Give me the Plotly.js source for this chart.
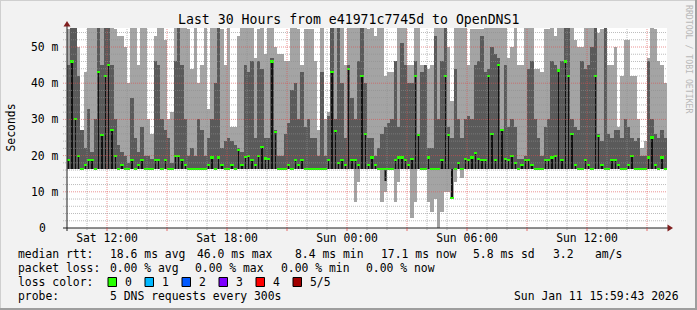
<!DOCTYPE html>
<html><head><meta charset="utf-8">
<script src="https://cdn.plot.ly/plotly-3.0.1.min.js"></script>
<style>html,body{margin:0;padding:0;background:#f2f2f2}</style>
</head><body><div id="chart" style="width:697px;height:310px"></div>
<script>
// ---- data (milliseconds), 10-minute bins from Sat 2026-01-10 10:00 ----
const startTime = Date.UTC(2026, 0, 10, 10, 0, 0);
const endTime = Date.UTC(2026, 0, 11, 16, 0, 0);
const binMinutes = 10;

const pingHigh = [
 55,58,58,50,27,43,58,58,58,58,58,58,58,58,55, 53,53,50,40,58,58,45,58,56,30,26,53,56,58,52, 30,32,58,58,58,58,55,44,58,40,45,58,33,58,58,
 58,55,45,56,28,28,53,58,56,56,58,47,55,56,48, 58,58,50,48,48,46,46,58,58,55,45,55,55,55,46, 27,58,30,32,58,58,58,58,45,58,56,58,56,58,58,
 55,58,53,58,58,42,43,43,46,58,58,58,45,45,58, 56,45,45,44,45,58,56,58,58,50,35,58,58,58,58, 45,55,55,55,55,58,58,58,58,58,58,58,47,50,58,
 45,45,58,58,58,44,44,43,55,55,58,53,58,58,58, 58,58,52,50,50,58,58,58,58,54,55,58,45,45,50, 28,42,52,52,42,42,30,22,24,47,56,55,46,45,40
];
const pingQ4 = [
 45,58,58,42,27,22,33,21,30,56,45,58,58,45,30, 23,21,20,18,36,25,21,28,20,20,19,46,45,30,27, 25,18,46,58,45,30,20,22,20,30,27,20,25,30,40,
 58,22,24,25,24,23,22,21,45,43,46,25,46,44,25, 25,47,27,20,20,26,29,38,40,30,43,28,30,25,25, 20,43,20,31,58,30,58,40,25,45,36,30,46,58,40,
 25,25,20,22,26,28,29,30,46,28,51,45,40,40,46, 26,43,45,22,22,53,30,46,56,28,25,44,30,25,30, 31,30,45,46,53,43,44,50,48,47,27,45,28,30,28,
 19,19,20,44,46,30,25,20,28,30,46,45,44,46,58, 58,30,28,27,46,44,45,50,56,26,24,56,26,25,27, 27,25,30,28,25,24,25,20,20,46,30,26,25,27,25
];
const medianRtt = [
 18.8,46,30,20,16.3,17.5,18.8,18.8,16.3,43,25.7,42,45,27,20, 16.3,17.5,16.3,16.3,18.8,16.3,17.5,18.8,16.3,16.3,16.3,18.8,18.8,16.3,18.8, 16.3,16.3,20,20,18.8,17.5,16.3,16.3,16.3,16.3,16.3,16.3,17.5,19.5,16.3,
 19.5,17.5,16.3,16.3,17.5,16.3,21.5,17.5,19.7,19.9,18.8,17.5,20,22.3,19.2, 19,46,26.6,16.3,16.3,16.3,17.5,16.3,18.8,17.5,18.8,16.3,16.3,16.3,16.3, 16.3,16.3,16.3,18.8,43,26.7,18,18.8,17.5,44,18.8,18.8,17.5,42,26,
 17.5,19.5,17.5,16.3,16.3,16.3,16.3,16.3,18.8,19.5,19.5,18.8,17.5,19,42, 25.8,16.3,16.3,19.5,16.3,16.3,16.3,18.8,42,25.8,8.4,16.3,18,16.3,19, 18.8,19.5,20.8,19,18.8,18.8,42,26,18.8,45,27,19,18.8,20,18,
 16.3,17.5,18.8,18.8,17.5,16.3,16.3,16.3,18.8,18.8,19.5,20,43.5,18.8,46, 42,26,17.5,16.3,16.3,18.8,17.5,16.3,42,25.5,17.5,16.3,16.3,18.8,18.8, 17.5,16.3,16.3,17.5,19.8,16.3,16.3,16.3,16.3,19.5,25,17.5,16.3,19.5,16.3
];
const pingQ2 = [
 16.3,16.3,16.3,16.3,16.3,16.3,16.3,16.3,16.3,16.3,16.3,16.3,16.3,16.3,16.3, 16.3,16.3,16.3,16.3,16.3,16.3,16.3,16.3,16.3,16.3,16.3,16.3,16.3,16.3,16.3, 16.3,16.3,16.3,16.3,16.3,16.3,16.3,16.3,16.3,16.3,16.3,16.3,16.3,16.3,16.3,
 16.3,16.3,16.3,16.3,16.3,16.3,16.3,16.3,16.3,16.3,16.3,16.3,16.3,16.3,16.3, 16.3,16.3,16.3,16.3,16.3,16.3,16.3,16.3,16.3,16.3,16.3,16.3,16.3,16.3,16.3, 16.3,16.3,16.3,16.3,16.3,16.3,16.3,16.3,16.3,16.3,16.3,16.3,16.3,16.3,16.3,
 16.3,16.3,16.3,16.3,16.3,13,16.3,16.3,16.3,16.3,16.3,16.3,16.3,16.3,16.3, 16.3,16.3,16.3,16.3,16.3,16.3,16.3,16.3,16.3,16.3,16.3,16.3,16.3,16.3,16.3, 16.3,16.3,16.3,16.3,16.3,16.3,16.3,16.3,16.3,16.3,16.3,16.3,16.3,16.3,16.3,
 16.3,16.3,16.3,16.3,16.3,16.3,16.3,16.3,16.3,16.3,16.3,16.3,16.3,16.3,16.3, 16.3,16.3,16.3,16.3,16.3,16.3,16.3,16.3,16.3,16.3,16.3,16.3,16.3,16.3,16.3, 16.3,16.3,16.3,16.3,16.3,16.3,16.3,16.3,16.3,16.3,16.3,16.3,16.3,16.3,16.3
];
const pingLow = [
 16.3,16.3,16.3,16.3,16.3,16.3,16.3,16.3,16.3,16.3,16.3,16.3,16.3,16.3,16.3, 16.3,16.3,16.3,16.3,16.3,16.3,16.3,16.3,16.3,16.3,16.3,16.3,16.3,16.3,16.3, 16.3,16.3,16.3,16.3,16.3,16.3,16.3,16.3,16.3,16.3,16.3,16.3,16.3,16.3,16.3,
 16.3,16.3,16.3,16.3,16.3,16.3,16.3,16.3,16.3,16.3,16.3,16.3,16.3,16.3,16.3, 16.3,16.3,16.3,16.3,16.3,16.3,16.3,16.3,16.3,16.3,16.3,16.3,16.3,16.3,16.3, 16.3,16.3,16.3,16.3,16.3,16.3,16.3,16.3,16.3,16.3,16.3,7.3,12.8,16.3,16.3,
 16.3,16.3,16.3,16.3,7.3,10,16.3,16.3,7.3,12.8,16.3,16.3,16.3,2.7,7.3, 16.3,16.3,16.3,7.3,4.5,8,0,4.5,10,10,8,12.8,16.3,13.7,16.3, 16.3,16.3,16.3,16.3,16.3,16.3,16.3,16.3,16.3,16.3,16.3,16.3,16.3,16.3,16.3,
 16.3,16.3,16.3,16.3,16.3,16.3,16.3,16.3,16.3,16.3,16.3,16.3,16.3,16.3,16.3, 16.3,16.3,16.3,16.3,16.3,16.3,16.3,16.3,16.3,16.3,16.3,16.3,16.3,16.3,16.3, 16.3,16.3,16.3,16.3,16.3,16.3,16.3,16.3,16.3,16.3,16.3,16.3,16.3,16.3,16.3
];

const xTickTimes = ['2026-01-10 12:00','2026-01-10 15:00','2026-01-10 18:00','2026-01-10 21:00','2026-01-11 00:00','2026-01-11 03:00','2026-01-11 06:00','2026-01-11 09:00','2026-01-11 12:00','2026-01-11 15:00'];
const xTickText = ['Sat 12:00','','Sat 18:00','','Sun 00:00','','Sun 06:00','','Sun 12:00',''];
const yTickVals = [0, 10, 20, 30, 40, 50];
const yTickText = ['0', '10 m', '20 m', '30 m', '40 m', '50 m'];

const titleText = 'Last 30 Hours from e41971c7745d to OpenDNS1';
const statsRtt = [['median rtt:',16.4],['18.6 ms avg',107.6],['46.0 ms max',194.7],['8.4 ms min',293],['17.1 ms now',379],['5.8 ms sd',471],['3.2',551],['am/s',593]];
const statsLoss = [['packet loss:',16.4],['0.00 % avg',107.6],['0.00 % max',193],['0.00 % min',279],['0.00 % now',364]];
const lossLabels = ['0','1','2','3','4','5/5'];
const lossColors = ['#26ff00','#00b8ff','#0059ff','#7e00ff','#ff0000','#a10000'];
const probeText = '5 DNS requests every 300s';
const dateStamp = 'Sun Jan 11 15:59:43 2026';

// ---- drawing ----
const FONT = 'DejaVu Sans Mono';
const FS = 11.4;
const binMs = binMinutes * 60000;
const fmt = ms => new Date(ms).toISOString().replace('T', ' ').slice(0, 19);
const times = pingHigh.map((_, i) => fmt(startTime + (i + 0.5) * binMs));

// pixel helpers for layout decoration (plot area 67..667 x 28..228)
const L = 67, T = 28, W = 600, H = 200;
const px = x => (x - L) / W;
const py = y => (T + H - y) / H;

const common = {type: 'bar', x: times, hoverinfo: 'skip', showlegend: false};
const traces = [
  Object.assign({}, common, {base: pingLow, y: pingHigh.map((v, i) => v - pingLow[i]), width: binMs,
    marker: {color: '#a4a4a4', line: {width: 0}}}),
  Object.assign({}, common, {base: pingQ2, y: pingQ4.map((v, i) => v - pingQ2[i]), width: binMs,
    marker: {color: '#5a5a5a', line: {width: 0}}}),
  Object.assign({}, common, {base: medianRtt.map((m, i) => Math.min(m, pingQ2[i])),
    y: medianRtt.map((m, i) => Math.abs(m - pingQ2[i])), width: binMs * 0.32,
    marker: {color: '#111111', line: {width: 0}}}),
  Object.assign({}, common, {base: medianRtt.map(m => m - 0.3), y: medianRtt.map(() => 0.6), width: binMs,
    marker: {color: lossColors[0], line: {width: 0}}})
];

const shapes = [];
// grid on top of smoke (rrdtool style)
for (let t = startTime + 3600000; t < endTime; t += 3600000) {
  const h = new Date(t).getUTCHours();
  const major = h % 3 === 0;
  shapes.push({type: 'line', xref: 'x', yref: 'paper', x0: fmt(t), x1: fmt(t), y0: 0, y1: 1, layer: 'above',
    line: {color: major ? 'rgba(222,79,79,0.6)' : 'rgba(143,143,143,0.6)', width: 1, dash: '1px,1px'}});
}
for (let v = 2; v < 55.25; v += 2) {
  const major = v % 10 === 0;
  shapes.push({type: 'line', xref: 'paper', yref: 'y', x0: px(63), x1: 1, y0: v, y1: v, layer: 'above',
    line: {color: major ? 'rgba(222,79,79,0.6)' : 'rgba(143,143,143,0.6)', width: 1, dash: '1px,1px'}});
}
// axis lines + arrows
shapes.push({type: 'line', xref: 'paper', yref: 'paper', x0: px(63), x1: px(668), y0: 0, y1: 0, layer: 'above', line: {color: '#1f1f1f', width: 1}});
shapes.push({type: 'line', xref: 'paper', yref: 'paper', x0: 0, x1: 0, y0: py(231), y1: py(25), layer: 'above', line: {color: '#1f1f1f', width: 1}});
shapes.push({type: 'path', xref: 'paper', yref: 'paper', layer: 'above',
  path: `M ${px(667.5)} ${py(224.5)} L ${px(673)} ${py(228)} L ${px(667.5)} ${py(231.5)} Z`, fillcolor: '#801f1f', line: {width: 0}});
shapes.push({type: 'path', xref: 'paper', yref: 'paper', layer: 'above',
  path: `M ${px(63.5)} ${py(26.5)} L ${px(67)} ${py(21)} L ${px(70.5)} ${py(26.5)} Z`, fillcolor: '#801f1f', line: {width: 0}});
// x ticks
for (let t = startTime + 3600000; t < endTime; t += 3600000) {
  const h = new Date(t).getUTCHours();
  shapes.push({type: 'line', xref: 'x', yref: 'paper', x0: fmt(t), x1: fmt(t), y0: py(228), y1: py(h % 3 === 0 ? 231 : 230),
    line: {color: h % 3 === 0 ? 'rgba(222,79,79,0.8)' : 'rgba(143,143,143,0.8)', width: 1}});
}
// frame
shapes.push({type: 'line', xref: 'paper', yref: 'paper', x0: px(0), x1: px(697), y0: py(0.5), y1: py(0.5), line: {color: '#cfcfcf', width: 1}});
shapes.push({type: 'line', xref: 'paper', yref: 'paper', x0: px(0.5), x1: px(0.5), y0: py(0), y1: py(310), line: {color: '#cfcfcf', width: 1}});
shapes.push({type: 'line', xref: 'paper', yref: 'paper', x0: px(0), x1: px(697), y0: py(309), y1: py(309), line: {color: '#9e9e9e', width: 2}});
shapes.push({type: 'line', xref: 'paper', yref: 'paper', x0: px(696), x1: px(696), y0: py(0), y1: py(310), line: {color: '#9e9e9e', width: 2}});
// loss colour swatches
lossColors.forEach((c, i) => {
  const x0 = 108 + i * 37;
  shapes.push({type: 'rect', xref: 'paper', yref: 'paper', x0: px(x0), x1: px(x0 + 8.5), y0: py(286.5), y1: py(277.5),
    fillcolor: c, line: {color: '#000', width: 1}});
});

const f = {family: FONT, size: FS, color: '#000'};
const ann = (text, x, y, xanchor) => ({text, xref: 'paper', yref: 'paper', x: px(x), y: py(y), xanchor: xanchor || 'left', yanchor: 'middle', showarrow: false, font: f});
const annotations = [];
// y tick labels (rrdtool places "0" with its unit gap kept)
yTickVals.forEach((v, i) => annotations.push({text: yTickText[i], xref: 'paper', yref: 'y', x: px(v === 0 ? 47.5 : 61), y: v,
  xanchor: 'right', yanchor: 'middle', showarrow: false, font: f}));
statsRtt.forEach(([t, x]) => annotations.push(ann(t, x, 254)));
statsLoss.forEach(([t, x]) => annotations.push(ann(t, x, 268)));
annotations.push(ann('loss color:', 16.4, 282));
lossLabels.forEach((t, i) => annotations.push(ann(t, 123 + i * 37, 282)));
annotations.push(ann('probe:', 16.4, 296));
annotations.push(ann(probeText, 107.6, 296));
annotations.push(ann(dateStamp, 681, 296, 'right'));
annotations.push({text: 'Seconds', xref: 'paper', yref: 'paper', x: px(10.5), y: py(128), xanchor: 'center', yanchor: 'middle',
  textangle: -90, showarrow: false, font: f});
annotations.push({text: 'RRDTOOL / TOBI OETIKER', xref: 'paper', yref: 'paper', x: px(689), y: py(59), xanchor: 'center', yanchor: 'middle',
  textangle: 90, showarrow: false, font: {family: FONT, size: 8.2, color: '#b8b8b8'}});
annotations.push({text: titleText, xref: 'paper', yref: 'paper', x: px(348), y: py(19.5), xanchor: 'center', yanchor: 'middle',
  showarrow: false, font: {family: FONT, size: 13.2, color: '#000'}});

const layout = {
  width: 697, height: 310,
  margin: {l: L, r: 697 - L - W, t: T, b: 310 - T - H, pad: 0},
  paper_bgcolor: '#f2f2f2', plot_bgcolor: '#ffffff',
  barmode: 'overlay', bargap: 0, showlegend: false,
  xaxis: {type: 'date', range: [fmt(startTime), fmt(endTime)], tickmode: 'array', tickvals: xTickTimes, ticktext: xTickText,
    showgrid: false, zeroline: false, showline: false, ticks: '', tickfont: f, ticklabelstandoff: 2, automargin: false, fixedrange: true},
  yaxis: {range: [0, 55.25], showticklabels: false, showgrid: false, zeroline: false, showline: false, ticks: '',
    automargin: false, fixedrange: true},
  shapes, annotations
};
Plotly.newPlot('chart', traces, layout, {displayModeBar: false, staticPlot: true});
</script></body></html>
